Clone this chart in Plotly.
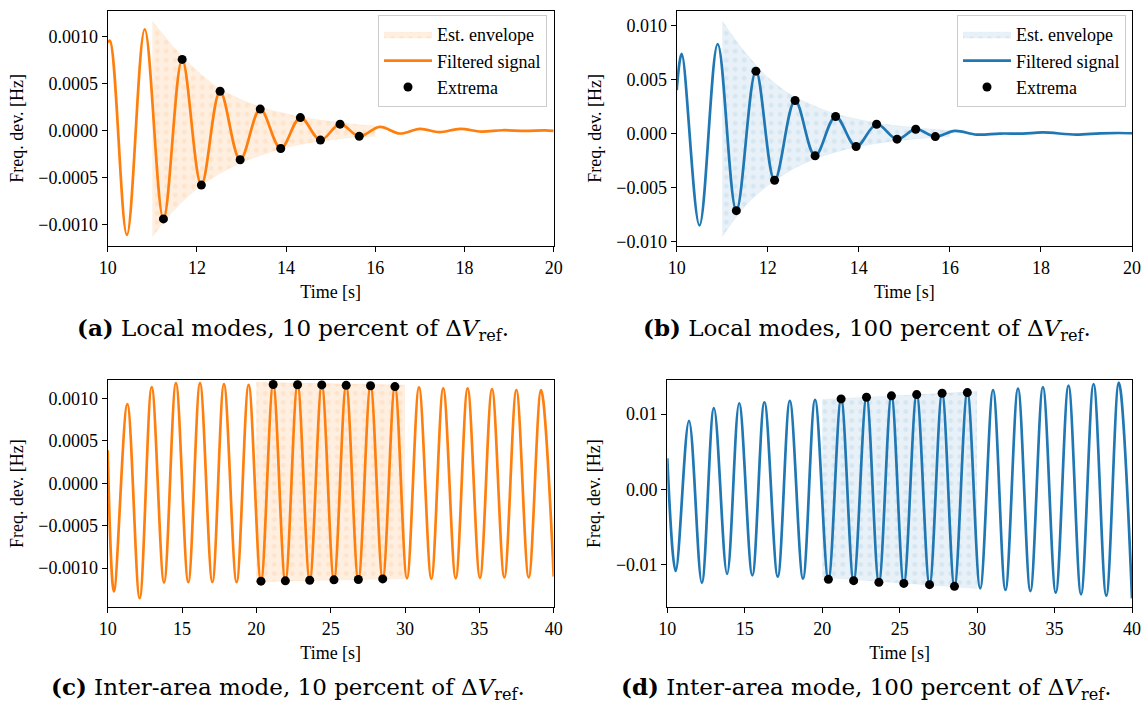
import plotly.graph_objects as go

W, H = 1145, 706

# ---------------- data ----------------
# (a) local modes, 10 percent
t_a = [10.0, 10.05, 10.43, 10.83, 11.25, 11.67, 12.10, 12.52, 12.97, 13.42, 13.88, 14.32,
       14.77, 15.21, 15.64, 16.10, 16.55, 17.00, 17.44, 17.90, 18.38, 18.85, 19.35, 19.80, 20.0]
v_a = [0.00094, 0.00096, -0.00111, 0.00108, -0.00094, 0.00076, -0.00058, 0.00042, -0.00031,
       0.00023, -0.00019, 0.00014, -0.00010, 0.00007, -0.00006, 0.00004, -0.00003, 0.00002,
       -0.000015, 0.00002, -0.00001, 0.000005, -0.000002, 0.000003, -0.000002]
ext_t_a = [11.25, 11.67, 12.10, 12.52, 12.97, 13.42, 13.88, 14.32, 14.77, 15.21, 15.64]
ext_v_a = [-0.00094, 0.00076, -0.00058, 0.00042, -0.00031, 0.00023, -0.00019, 0.00014,
           -0.00010, 0.00007, -0.00006]
env_t_a = [11.0, 11.5, 12.0, 12.5, 13.0, 13.5, 14.0, 14.5, 15.0, 15.5, 16.0]
env_up_a = [0.00117, 0.00088, 0.00064, 0.00045, 0.00033, 0.00024, 0.00018, 0.00013, 0.00010,
            0.00007, 0.00005]
env_lo_a = [-0.00113, -0.00084, -0.00062, -0.00046, -0.00034, -0.00025, -0.00018, -0.00013,
            -0.00010, -0.00007, -0.00006]

# (b) local modes, 100 percent
t_b = [10.0, 10.11, 10.50, 10.90, 11.31, 11.74, 12.15, 12.60, 13.04, 13.49, 13.94, 14.39,
       14.84, 15.25, 15.68, 16.11, 16.59, 17.1, 17.6, 18.04, 18.77, 19.3, 19.7, 20.0]
v_b = [0.0040, 0.00736, -0.00847, 0.00826, -0.00712, 0.00576, -0.00431, 0.00305, -0.00206,
       0.00157, -0.0012, 0.00086, -0.00052, 0.0004, -0.00028, 0.00025, -0.0001, 0.0, 0.0,
       0.0001, -0.0001, 0.00002, 0.00005, 0.00003]
ext_t_b = [11.31, 11.74, 12.15, 12.60, 13.04, 13.49, 13.94, 14.39, 14.84, 15.25, 15.68]
ext_v_b = [-0.00712, 0.00576, -0.00431, 0.00305, -0.00206, 0.00157, -0.0012, 0.00086,
           -0.00052, 0.0004, -0.00028]
env_t_b = [11.0, 11.5, 12.0, 12.5, 13.0, 13.5, 14.0, 14.5, 15.0, 15.5, 16.0]
env_up_b = [0.0104, 0.0075, 0.0052, 0.0036, 0.0026, 0.0018, 0.0013, 0.0009, 0.00065, 0.00045,
            0.0003]
env_lo_b = [-0.0095, -0.0067, -0.0048, -0.0034, -0.0024, -0.0017, -0.0012, -0.00085, -0.0006,
            -0.0004, -0.00028]

# (c) inter-area mode, 10 percent
t_c = [10.0, 10.42, 11.32, 12.15, 12.96, 13.79, 14.59, 15.42, 16.21, 17.04, 17.82, 18.67,
       19.48, 20.31, 21.13, 21.95, 22.77, 23.59, 24.40, 25.22, 26.04, 26.86, 27.68, 28.50,
       29.32, 30.13, 30.94, 31.77, 32.57, 33.41, 34.21, 35.04, 35.85, 36.68, 37.49, 38.32,
       39.15, 40.0]
v_c = [0.00039, -0.001275, 0.000934, -0.001354, 0.001135, -0.00117, 0.00118, -0.001166,
       0.00118, -0.001166, 0.00117, -0.001166, 0.00116, -0.001154, 0.001165, -0.00115,
       0.001162, -0.001143, 0.00116, -0.001138, 0.001155, -0.001134, 0.00115, -0.001127,
       0.00114, -0.00112, 0.00113, -0.001127, 0.00112, -0.00112, 0.00112, -0.001115, 0.00111,
       -0.00111, 0.0011, -0.00111, 0.0011, -0.0011]
ext_t_c = [20.31, 21.13, 21.95, 22.77, 23.59, 24.40, 25.22, 26.04, 26.86, 27.68, 28.50, 29.32]
ext_v_c = [-0.001154, 0.001165, -0.00115, 0.001162, -0.001143, 0.00116, -0.001138, 0.001155,
           -0.001134, 0.00115, -0.001127, 0.00114]
env_t_c = [20.0, 25.0, 30.0]
env_up_c = [0.00119, 0.001175, 0.00116]
env_lo_c = [-0.00116, -0.00114, -0.001123]

# (d) inter-area mode, 100 percent
t_d = [10.0, 10.54, 11.40, 12.23, 13.01, 13.86, 14.64, 15.49, 16.27, 17.13, 17.91, 18.76,
       19.54, 20.40, 21.22, 22.03, 22.86, 23.66, 24.47, 25.27, 26.10, 26.93, 27.74, 28.54,
       29.37, 30.20, 31.03, 31.83, 32.64, 33.44, 34.25, 35.08, 35.90, 36.71, 37.52, 38.34,
       39.15, 40.0]
v_d = [0.00412, -0.01086, 0.00909, -0.01242, 0.01078, -0.01126, 0.01144, -0.01144, 0.01157,
       -0.01162, 0.01175, -0.01188, 0.01188, -0.01197, 0.01202, -0.01215, 0.01224, -0.01237,
       0.01242, -0.01251, 0.01259, -0.01268, 0.01277, -0.0129, 0.01286, -0.01317, 0.0132,
       -0.01339, 0.0134, -0.01353, 0.0136, -0.01375, 0.0138, -0.01397, 0.014, -0.01415, 0.0142,
       -0.0145]
ext_t_d = [20.40, 21.22, 22.03, 22.86, 23.66, 24.47, 25.27, 26.10, 26.93, 27.74, 28.54, 29.37]
ext_v_d = [-0.01197, 0.01202, -0.01215, 0.01224, -0.01237, 0.01242, -0.01251, 0.01259,
           -0.01268, 0.01277, -0.0129, 0.01286]
env_t_d = [20.0, 25.0, 30.0]
env_up_d = [0.01195, 0.0125, 0.0130]
env_lo_d = [-0.0117, -0.01245, -0.0132]

captions = [
    "<b>(a)</b> Local modes, 10 percent of Δ<i>V</i><sub>ref</sub>.",
    "<b>(b)</b> Local modes, 100 percent of Δ<i>V</i><sub>ref</sub>.",
    "<b>(c)</b> Inter-area mode, 10 percent of Δ<i>V</i><sub>ref</sub>.",
    "<b>(d)</b> Inter-area mode, 100 percent of Δ<i>V</i><sub>ref</sub>.",
]
legend_labels = ["Est. envelope", "Filtered signal", "Extrema"]

# ---------------- styling ----------------
ORANGE = "#ff7f0e"
BLUE = "#1f77b4"
FONT = "Liberation Serif"
CAPFONT = "DejaVu Serif"
FS = 18

def px_x(a, b):
    return [a / W, b / W]

def px_y(top, bot):
    return [1 - bot / H, 1 - top / H]

panels = [
    dict(t=t_a, v=v_a, et=ext_t_a, ev=ext_v_a, envt=env_t_a, up=env_up_a, lo=env_lo_a,
         color=ORANGE, fill="rgba(255,127,14,0.13)", dot="rgba(255,127,14,0.22)",
         xd=px_x(107.7, 553.7), yd=px_y(10.7, 246), xr=[10, 20], yr=[-0.001229, 0.001279],
         dt=2, ydt=0.0005, fmt=".4f", shape="spline", legend="legend"),
    dict(t=t_b, v=v_b, et=ext_t_b, ev=ext_v_b, envt=env_t_b, up=env_up_b, lo=env_lo_b,
         color=BLUE, fill="rgba(31,119,180,0.10)", dot="rgba(31,119,180,0.18)",
         xd=px_x(676.7, 1132), yd=px_y(10.7, 246), xr=[10, 20], yr=[-0.01038, 0.01134],
         dt=2, ydt=0.005, fmt=".3f", shape="spline", legend="legend2"),
    dict(t=t_c, v=v_c, et=ext_t_c, ev=ext_v_c, envt=env_t_c, up=env_up_c, lo=env_lo_c,
         color=ORANGE, fill="rgba(255,127,14,0.13)", dot="rgba(255,127,14,0.22)",
         xd=px_x(107.7, 553.7), yd=px_y(380, 607.3), xr=[10, 40], yr=[-0.001462, 0.001218],
         dt=5, ydt=0.0005, fmt=".4f", shape="linear", legend=None),
    dict(t=t_d, v=v_d, et=ext_t_d, ev=ext_v_d, envt=env_t_d, up=env_up_d, lo=env_lo_d,
         color=BLUE, fill="rgba(31,119,180,0.10)", dot="rgba(31,119,180,0.18)",
         xd=px_x(667.3, 1132), yd=px_y(380, 607.3), xr=[10, 40], yr=[-0.01569, 0.01453],
         dt=5, ydt=0.01, fmt=".2f", shape="linear", legend=None),
]

fig = go.Figure()
layout = {}
for i, p in enumerate(panels):
    n = "" if i == 0 else str(i + 1)
    xa, ya = "x" + n, "y" + n
    show = p["legend"] is not None
    lg = p["legend"] or "legend"
    # envelope
    fig.add_trace(go.Scatter(x=p["envt"], y=p["up"], xaxis=xa, yaxis=ya, mode="lines",
                             line=dict(color=p["fill"], width=0.5, shape=p["shape"]),
                             showlegend=False, hoverinfo="skip", legend=lg))
    fig.add_trace(go.Scatter(x=p["envt"], y=p["lo"], xaxis=xa, yaxis=ya, mode="lines",
                             line=dict(color=p["fill"], width=0.5, shape=p["shape"]),
                             fill="tonexty", fillcolor=p["fill"],
                             fillpattern=dict(shape=".", size=9, solidity=0.22,
                                              fgcolor=p["dot"], bgcolor=p["fill"]),
                             name=legend_labels[0], showlegend=show, legend=lg))
    # filtered signal
    fig.add_trace(go.Scatter(x=p["t"], y=p["v"], xaxis=xa, yaxis=ya, mode="lines",
                             line=dict(color=p["color"], width=2.7, shape="spline",
                                       smoothing=1.0),
                             name=legend_labels[1], showlegend=show, legend=lg))
    # extrema
    fig.add_trace(go.Scatter(x=p["et"], y=p["ev"], xaxis=xa, yaxis=ya, mode="markers",
                             marker=dict(color="black", size=9),
                             name=legend_labels[2], showlegend=show, legend=lg))
    axfont = dict(family=FONT, size=FS, color="black")
    common = dict(showline=True, mirror=True, linecolor="black", linewidth=1.2,
                  ticks="outside", ticklen=5, tickwidth=1.2, tickcolor="black",
                  showgrid=False, zeroline=False, tickfont=axfont, automargin=False)
    layout["xaxis" + n] = dict(domain=p["xd"], range=p["xr"], dtick=p["dt"], tick0=0,
                               anchor=ya, title=dict(text="Time [s]", font=axfont, standoff=8),
                               **common)
    layout["yaxis" + n] = dict(domain=p["yd"], range=p["yr"], dtick=p["ydt"], tick0=0,
                               tickformat=p["fmt"], anchor=xa,
                               title=dict(text="Freq. dev. [Hz]", font=axfont, standoff=10),
                               **common)

legfont = dict(family=FONT, size=FS, color="black")
for key, xr in (("legend", 547), ("legend2", 1126)):
    layout[key] = dict(x=xr / W, y=1 - 15 / H, xanchor="right", yanchor="top",
                       bgcolor="rgba(255,255,255,0.85)", bordercolor="#cccccc", borderwidth=1,
                       font=legfont, traceorder="normal", itemwidth=48)

cap_pos = [(293, 330), (867, 330), (288, 688), (866, 688)]
annotations = []
for cap, (cx, cy) in zip(captions, cap_pos):
    annotations.append(dict(text=cap, x=cx / W, y=1 - cy / H, xref="paper", yref="paper",
                            xanchor="center", yanchor="middle", showarrow=False,
                            font=dict(family=CAPFONT, size=23, color="black")))

fig.update_layout(width=W, height=H, margin=dict(l=0, r=0, t=0, b=0),
                  paper_bgcolor="white", plot_bgcolor="white",
                  annotations=annotations, **layout)

fig.write_html("out.html")
